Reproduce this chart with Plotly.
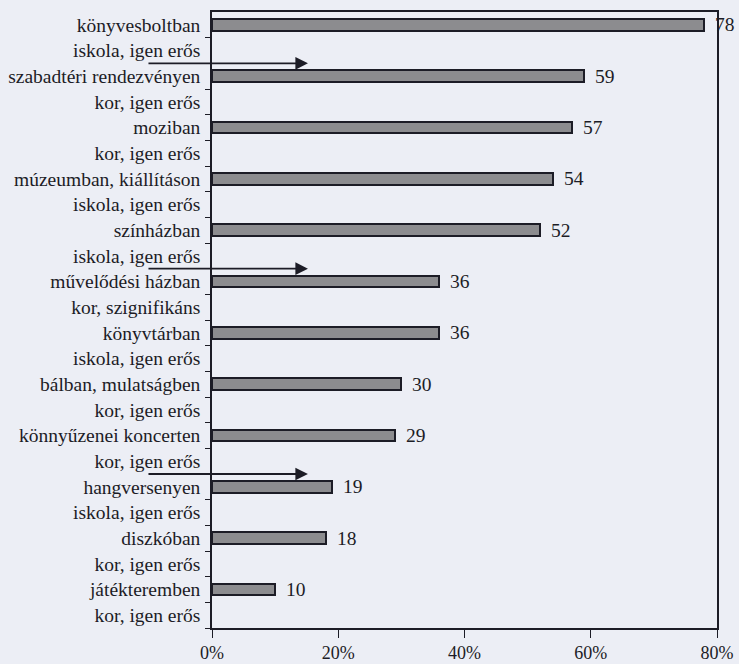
import plotly.graph_objects as go

# Data
places = [
    "könyvesboltban", "szabadtéri rendezvényen", "moziban",
    "múzeumban, kiállításon", "színházban", "művelődési házban",
    "könyvtárban", "bálban, mulatságben", "könnyűzenei koncerten",
    "hangversenyen", "diszkóban", "játékteremben",
]
values = [78, 59, 57, 54, 52, 36, 36, 30, 29, 19, 18, 10]
effects = [
    "iskola, igen erős", "kor, igen erős", "kor, igen erős",
    "iskola, igen erős", "iskola, igen erős", "kor, szignifikáns",
    "iskola, igen erős", "kor, igen erős", "kor, igen erős",
    "iskola, igen erős", "kor, igen erős", "kor, igen erős",
]
# arrows sit between the effect label and the next place
arrow_after = [0, 4, 8]
x_ticks = [0, 20, 40, 60, 80]

BG = "#eceef5"
INK = "#1c1c26"
FONT = "Liberation Serif, Times New Roman, serif"
SIZE = 19.5

bar_rows = [2 * i for i in range(len(places))]
labels, rows = [], []
for i, (p, e) in enumerate(zip(places, effects)):
    labels += [p, e]
    rows += [2 * i, 2 * i + 1]

fig = go.Figure(go.Bar(
    x=values,
    y=bar_rows,
    orientation="h",
    width=0.45,
    marker=dict(color="#8c8c8f", line=dict(color=INK, width=2)),
    hoverinfo="skip",
))

# Value labels right of the bars
annotations = []
for v, r in zip(values, bar_rows):
    annotations.append(dict(
        x=v, y=r, xref="x", yref="y", text=str(v), showarrow=False,
        xanchor="left", xshift=9, font=dict(family=FONT, size=SIZE, color=INK),
    ))

# Arrows
for i in arrow_after:
    y = 2 * i + 1.5
    annotations.append(dict(
        x=15.2, y=y, ax=-10.3, ay=y, xref="x", yref="y", axref="x", ayref="y",
        text="", showarrow=True, arrowhead=2, arrowsize=1.4, arrowwidth=1.8,
        arrowcolor=INK,
    ))

fig.update_layout(
    width=739, height=664,
    paper_bgcolor=BG, plot_bgcolor=BG,
    margin=dict(l=212, r=22, t=12, b=36),
    font=dict(family=FONT, size=SIZE, color=INK),
    showlegend=False,
    annotations=annotations,
    bargap=0,
)
fig.update_xaxes(
    range=[0, 80], tickvals=x_ticks, ticktext=[f"{t}%" for t in x_ticks],
    ticks="outside", ticklen=8, tickcolor=INK, ticklabelstandoff=0,
    tickfont=dict(size=18),
    showgrid=False, zeroline=False, automargin=False,
    showline=True, linecolor=INK, linewidth=1.5, mirror=True,
)
fig.update_yaxes(
    range=[len(labels) - 0.5, -0.5],
    tickvals=rows, ticktext=labels, ticks="", ticklabelstandoff=6,
    minor=dict(tickvals=[r + 0.5 for r in rows], ticks="outside",
               ticklen=5, tickcolor=INK),
    showgrid=False, zeroline=False, automargin=False,
    showline=True, linecolor=INK, linewidth=1.5, mirror=True,
)

fig.write_html(
    "out.html",
    config={"displayModeBar": False},
    post_script=f"document.body.style.margin='0';document.body.style.background='{BG}';",
)
